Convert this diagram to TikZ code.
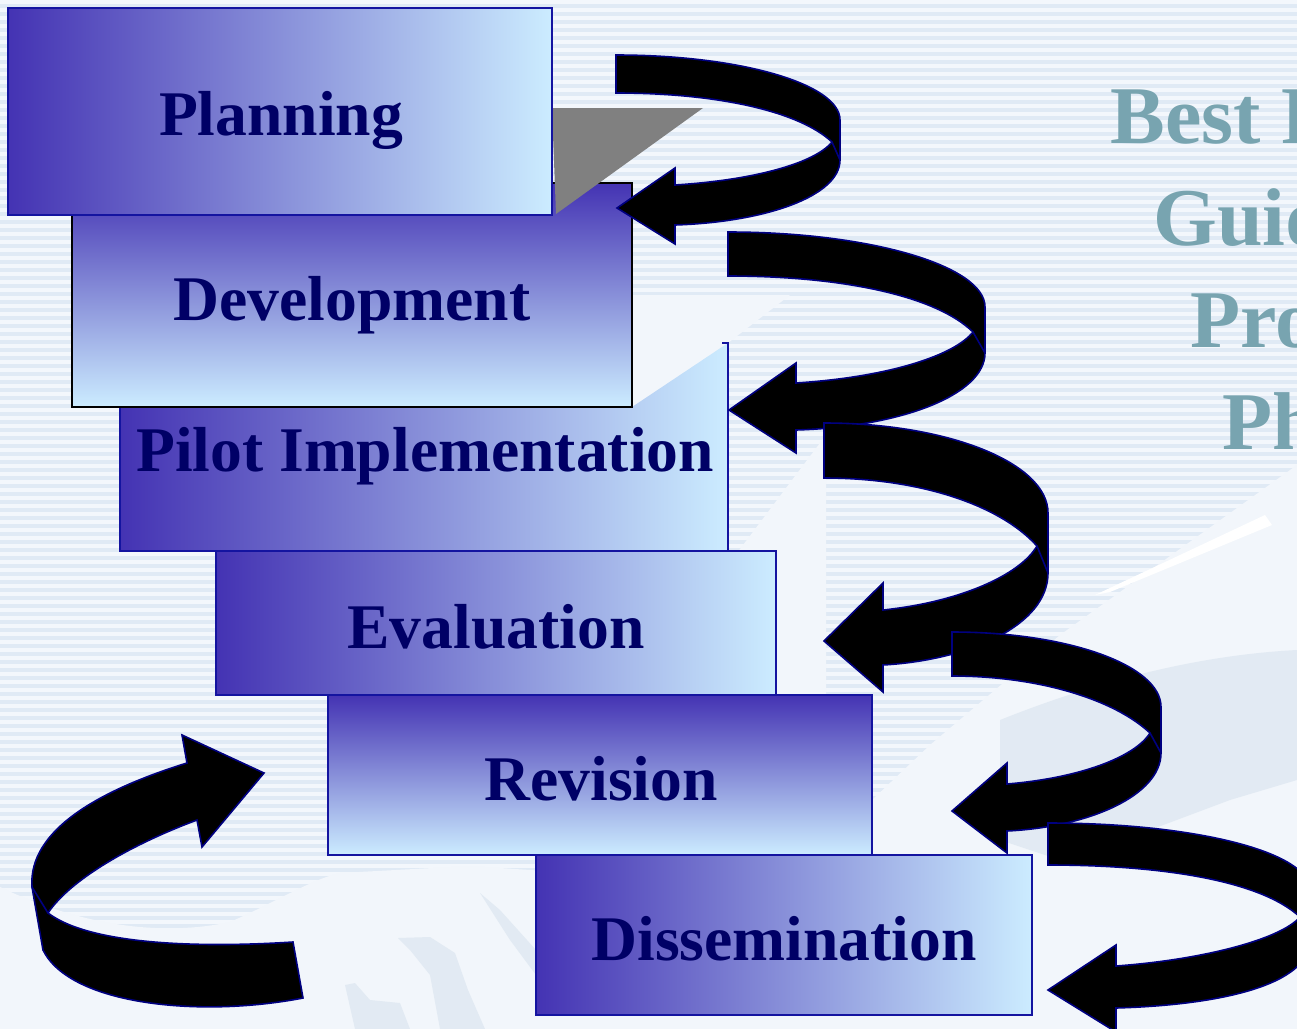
\documentclass[tikz,border=0pt]{standalone}
\usepackage{fontspec}
\setmainfont{Liberation Serif}
\definecolor{boxdark}{RGB}{68,51,179}
\definecolor{boxlight}{RGB}{204,236,255}
\definecolor{boxedge}{RGB}{20,20,160}
\definecolor{txtnavy}{RGB}{0,0,102}
\definecolor{sidecol}{RGB}{120,164,176}
\definecolor{stripeA}{RGB}{224,234,245}
\definecolor{stripeB}{RGB}{243,247,252}
\definecolor{snow}{RGB}{242,246,251}
\definecolor{snowshade}{RGB}{226,234,243}
\definecolor{arrowedge}{RGB}{0,0,128}
\tikzset{
  hbox/.style={left color=boxdark, right color=boxlight, draw=boxedge, line width=1pt},
  vbox/.style={top color=boxdark, bottom color=boxlight, draw=boxedge, line width=1pt},
  boxtext/.style={font=\fontsize{31.8}{36}\selectfont\bfseries, text=txtnavy, anchor=base, inner sep=0pt},
  sidetext/.style={font=\fontsize{41}{48}\selectfont\bfseries, text=sidecol, anchor=base west, inner sep=0pt},
  ribbon/.style={fill=black, draw=arrowedge, line width=0.8pt, line join=miter},
  foldline/.style={draw=arrowedge, line width=0.8pt}
}
\begin{document}
\begin{tikzpicture}[x=0.5pt,y=-0.5pt]
\useasboundingbox (0,0) rectangle (1297,1029);
\clip (0,0) rectangle (1297,1029);
% background stripes
\fill[stripeB] (0,0) rectangle (1297,1029);
\foreach \k in {0,...,128} { \fill[stripeA] (0,{8*\k+4}) rectangle (1297,{8*\k+8}); }
% light (snow) regions
\fill[snow] (0,887) .. controls (90,930) and (170,935) .. (230,922) .. controls (280,900) and (310,880) .. (340,873) -- (470,866) -- (560,872) -- (560,1029) -- (0,1029) -- cycle;
\fill[snow] (560,1015) -- (872,800) -- (930,745) -- (1060,635) -- (1297,465) -- (1297,1029) -- (560,1029) -- cycle;
\fill[snow] (632,295) -- (790,295) -- (728,343) -- (632,407) -- cycle;
\fill[snow] (728,565) -- (826,435) -- (826,700) -- (776,700) -- (776,551) -- cycle;
\fill[snowshade] (1000,720) .. controls (1100,680) and (1200,655) .. (1297,650) -- (1297,780) -- (1230,800) -- (1150,830) -- (1060,860) -- (1000,840) -- cycle;
\fill[white] (1095,595) -- (1265,515) -- (1272,525) -- (1110,592) -- cycle;
\fill[snowshade] (398,938) -- (430,937) -- (455,953) -- (468,990) -- (485,1029) -- (440,1029) -- (430,975) -- (410,950) -- cycle;
\fill[snowshade] (345,985) -- (355,983) -- (370,1000) -- (400,1003) -- (410,1029) -- (355,1029) -- cycle;
\fill[snowshade] (480,893) -- (500,910) -- (536,950) -- (536,975) -- (510,940) -- cycle;
% boxes, bottom to top
\path[hbox] (536,855) rectangle (1032,1015);
\path[vbox] (328,695) rectangle (872,855);
\path[hbox] (216,551) rectangle (776,695);
\path[left color=boxdark, right color=boxlight] (120,551) -- (120,407) -- (632,407) -- (728,343) -- (728,551) -- cycle;
\draw[boxedge, line width=1pt] (120,407) -- (120,551) -- (728,551) -- (728,343) -- (722,343);
\path[top color=boxdark, bottom color=boxlight, draw=black, line width=1.2pt] (72,183) rectangle (632,407);
\fill[gray] (552,108) -- (703,108) -- (556,214) -- cycle;
\path[hbox] (8,8) rectangle (552,215);
% box labels
\node[boxtext] (planning) at (281,135) {Planning};
\node[boxtext] (development) at (352,320) {Development};
\node[boxtext] (pilot) at (425,471) {Pilot Implementation};
\node[boxtext] (evaluation) at (496,648) {Evaluation};
\node[boxtext] (revision) at (601,800) {Revision};
\node[boxtext] (dissemination) at (784,960) {Dissemination};
% side title (cut off at the right edge, as in the reference)
\node[sidetext] (t1) at (1110,143) {Best P};
\node[sidetext] (t2) at (1153,245) {Guid};
\node[sidetext] (t3) at (1190,347) {Pro};
\node[sidetext] (t4) at (1222,449) {Ph};
% curved arrows
\path[ribbon] (616,55) .. controls (740,55) and (840,84) .. (840,120) -- (840,160)
  .. controls (840,196) and (766,222) .. (675,225) -- (675,244) -- (617,208) -- (675,168) -- (675,185)
  .. controls (755,180) and (815,163) .. (832,142) .. controls (800,112) and (720,93) .. (616,93) -- cycle;
\path[foldline] (832,142) -- (840,160);
\path[ribbon] (728,232) .. controls (870,232) and (985,266) .. (985,307) -- (985,353)
  .. controls (985,395) and (900,427) .. (796,430) -- (796,453) -- (729,410) -- (796,363) -- (796,383)
  .. controls (890,377) and (955,355) .. (973,332) .. controls (935,295) and (840,276) .. (728,276) -- cycle;
\path[foldline] (973,332) -- (985,353);
\path[ribbon] (824,423) .. controls (948,423) and (1048,463) .. (1048,513) -- (1048,573)
  .. controls (1048,625) and (970,660) .. (883,665) -- (883,692) -- (824,641) -- (883,583) -- (883,610)
  .. controls (960,602) and (1020,575) .. (1037,546) .. controls (1000,505) and (920,478) .. (824,478) -- cycle;
\path[foldline] (1037,546) -- (1048,573);
\path[ribbon] (952,632) .. controls (1067,632) and (1161,665) .. (1161,707) -- (1161,753)
  .. controls (1161,795) and (1090,827) .. (1007,831) -- (1007,853) -- (952,811) -- (1007,763) -- (1007,784)
  .. controls (1080,778) and (1135,757) .. (1150,733) .. controls (1115,700) and (1040,676) .. (952,676) -- cycle;
\path[foldline] (1150,733) -- (1161,753);
\path[ribbon] (1048,823) .. controls (1195,823) and (1310,852) .. (1310,890) -- (1310,940)
  .. controls (1310,985) and (1220,1005) .. (1116,1008) -- (1116,1032) -- (1048,990) -- (1116,945) -- (1116,966)
  .. controls (1200,960) and (1280,940) .. (1300,917) .. controls (1260,880) and (1160,865) .. (1048,865) -- cycle;
\path[foldline] (1300,917) -- (1310,940);
\path[ribbon] (293,942) -- (303,998) .. controls (200,1018) and (70,1005) .. (43,950) -- (32,887)
  .. controls (28,830) and (100,790) .. (187,763) -- (182,735) -- (264,773) -- (202,847) -- (197,820)
  .. controls (130,845) and (70,880) .. (48,913) .. controls (90,945) and (200,948) .. (293,942) -- cycle;
\path[foldline] (48,913) -- (32,887);
\end{tikzpicture}
\end{document}
